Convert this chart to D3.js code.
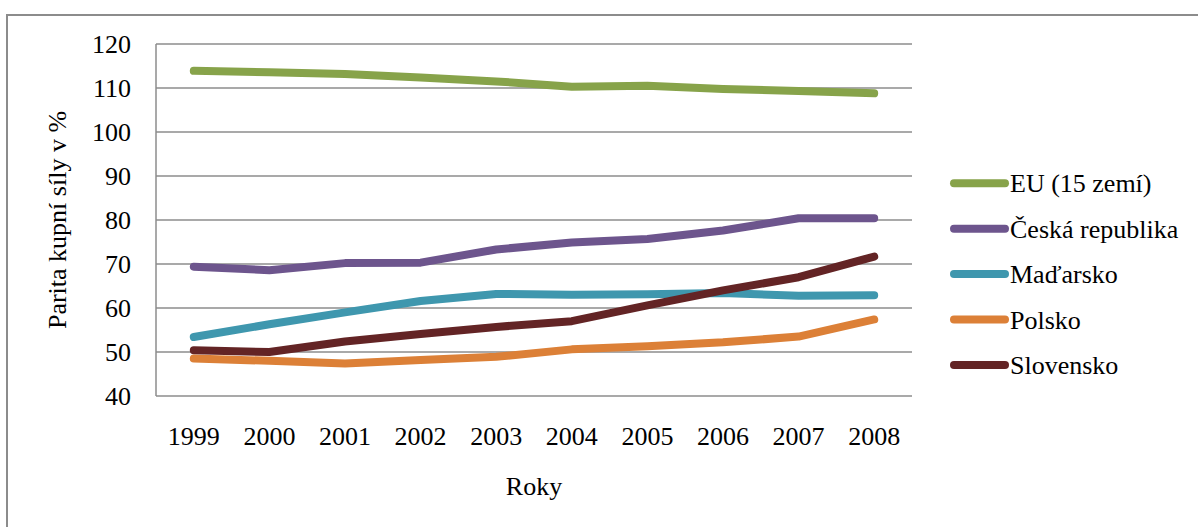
<!DOCTYPE html>
<html>
<head>
<meta charset="utf-8">
<script src="https://cdn.jsdelivr.net/npm/d3@7"></script>
<style>
  html, body { margin: 0; padding: 0; background: #fff; }
  svg { display: block; font-family: "Liberation Serif", "Times New Roman", serif; }
</style>
</head>
<body>
<svg id="chart" width="1198" height="527"></svg>
<script>
const years = ["1999","2000","2001","2002","2003","2004","2005","2006","2007","2008"];
const seriesNames = ["EU (15 zemí)", "Česká republika", "Maďarsko", "Polsko", "Slovensko"];
const euValues = [113.9, 113.6, 113.2, 112.4, 111.5, 110.3, 110.5, 109.8, 109.3, 108.8];
const czValues = [69.4, 68.6, 70.2, 70.3, 73.3, 74.9, 75.7, 77.6, 80.4, 80.4];
const huValues = [53.4, 56.3, 59.0, 61.6, 63.2, 63.0, 63.1, 63.4, 62.8, 62.9];
const plValues = [48.5, 48.0, 47.4, 48.2, 48.9, 50.6, 51.3, 52.2, 53.5, 57.4];
const skValues = [50.4, 50.0, 52.4, 54.1, 55.7, 57.0, 60.6, 64.0, 67.0, 71.7];
const yTicks = [40, 50, 60, 70, 80, 90, 100, 110, 120];
const colors = ["#87a34a", "#6d558d", "#3f97ae", "#dc8037", "#632425"];

const series = [euValues, czValues, huValues, plValues, skValues].map((v, i) => ({name: seriesNames[i], values: v, color: colors[i]}));

const svg = d3.select("#chart");
const plot = {left: 156, right: 912, top: 44, bottom: 396};

// outer border
svg.append("rect")
  .attr("x", 7).attr("y", 15).attr("width", 1200).attr("height", 600)
  .attr("fill", "none").attr("stroke", "#8c8c8c").attr("stroke-width", 2);

const x = d3.scaleBand().domain(years).range([plot.left, plot.right]).padding(0);
const y = d3.scaleLinear().domain([40, 120]).range([plot.bottom, plot.top]);

// gridlines
svg.append("g").selectAll("line").data(yTicks).join("line")
  .attr("x1", plot.left).attr("x2", plot.right)
  .attr("y1", d => y(d)).attr("y2", d => y(d))
  .attr("stroke", "#8c8c8c").attr("stroke-width", 1.5);

// y axis line
svg.append("line")
  .attr("x1", plot.left).attr("x2", plot.left)
  .attr("y1", plot.top).attr("y2", plot.bottom)
  .attr("stroke", "#8c8c8c").attr("stroke-width", 1.5);

// y axis labels
const yAxis = d3.axisLeft(y).tickValues(yTicks).tickSize(0).tickPadding(25);
const yg = svg.append("g").attr("transform", `translate(${plot.left},0)`).call(yAxis);
yg.select(".domain").remove();
yg.selectAll("text").attr("font-size", 26).attr("fill", "#000")
  .attr("font-family", "Liberation Serif, Times New Roman, serif");

// x axis labels
const xAxis = d3.axisBottom(x).tickSize(0).tickPadding(31);
const xg = svg.append("g").attr("transform", `translate(0,${plot.bottom})`).call(xAxis);
xg.select(".domain").remove();
xg.selectAll("text").attr("font-size", 26).attr("fill", "#000")
  .attr("font-family", "Liberation Serif, Times New Roman, serif");

// axis titles
svg.append("text")
  .attr("transform", `translate(66,${(plot.top + plot.bottom) / 2}) rotate(-90)`)
  .attr("text-anchor", "middle").attr("font-size", 26).attr("fill", "#000")
  .text("Parita kupní síly v %");
svg.append("text")
  .attr("x", (plot.left + plot.right) / 2).attr("y", 495)
  .attr("text-anchor", "middle").attr("font-size", 26).attr("fill", "#000")
  .text("Roky");

// lines
const line = d3.line()
  .x((d, i) => x(years[i]) + x.bandwidth() / 2)
  .y(d => y(d));
svg.append("g").selectAll("path").data(series).join("path")
  .attr("d", d => line(d.values))
  .attr("fill", "none")
  .attr("stroke", d => d.color)
  .attr("stroke-width", 8)
  .attr("stroke-linecap", "round")
  .attr("stroke-linejoin", "round");

// legend
const legend = svg.append("g").selectAll("g").data(series).join("g")
  .attr("transform", (d, i) => `translate(950,${183.3 + i * 45.4})`);
legend.append("line")
  .attr("x1", 4).attr("x2", 55).attr("y1", 0).attr("y2", 0)
  .attr("stroke", d => d.color).attr("stroke-width", 8).attr("stroke-linecap", "round");
legend.append("text")
  .attr("x", 60).attr("y", 0).attr("dy", "0.35em")
  .attr("font-size", 26).attr("fill", "#000")
  .text(d => d.name);
</script>
</body>
</html>
